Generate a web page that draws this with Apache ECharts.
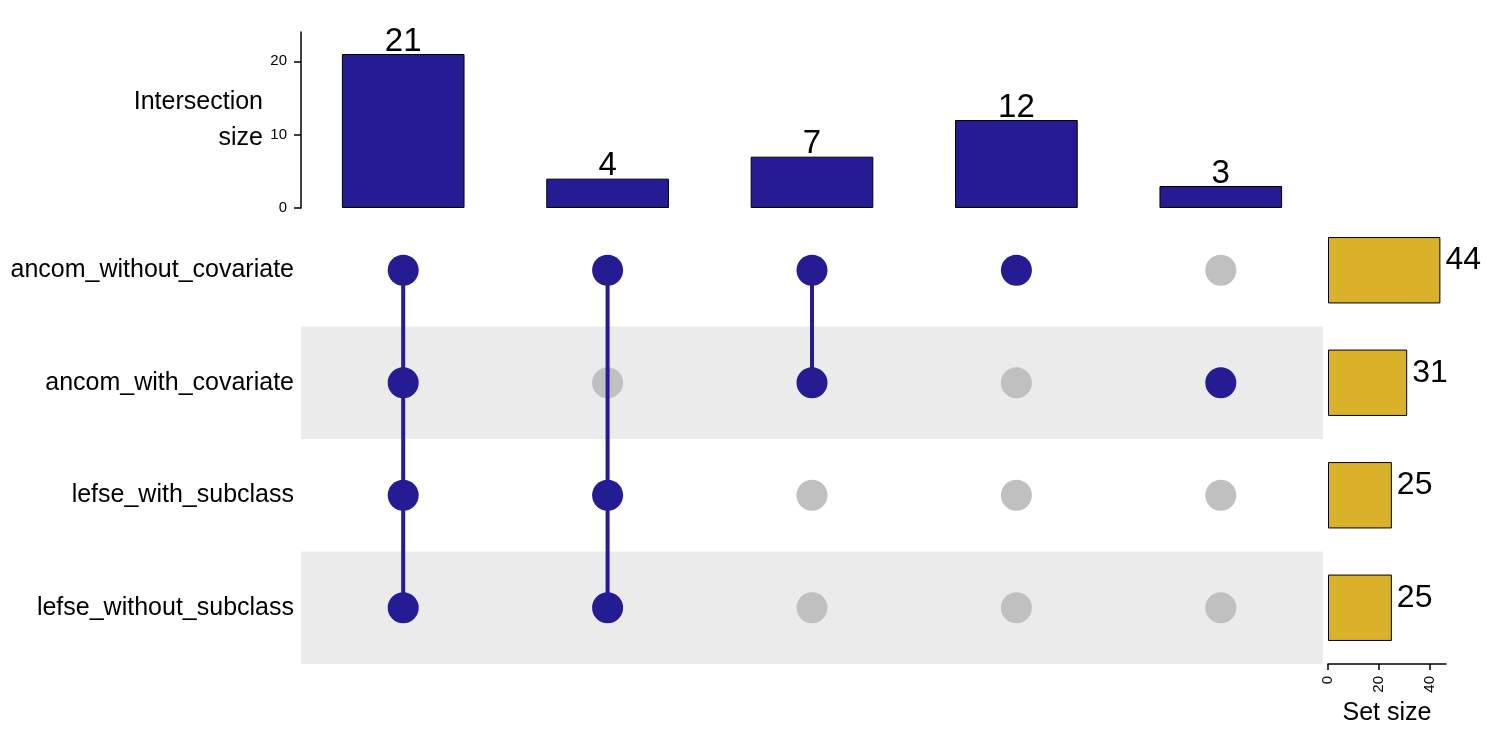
<!DOCTYPE html>
<html>
<head>
<meta charset="utf-8">
<script src="https://cdn.jsdelivr.net/npm/echarts@6/dist/echarts.min.js"></script>
<style>html,body{margin:0;padding:0;background:#fff;}#c{width:1500px;height:750px;}</style>
</head>
<body>
<div id="c"></div>
<script>
var sets = ['ancom_without_covariate', 'ancom_with_covariate', 'lefse_with_subclass', 'lefse_without_subclass'];
var setSizes = [44, 31, 25, 25];
var intersectionSizes = [21, 4, 7, 12, 3];
// membership: for each intersection column, list of set indices involved
var membership = [[0, 1, 2, 3], [0, 2, 3], [0, 1], [0], [1]];

var BLUE = '#251C93';
var GREY = '#C0C0C0';
var GOLD = '#DAB22A';
var FONT = '"Liberation Sans", Arial, Helvetica, sans-serif';

var cols = intersectionSizes.map(function (_, i) { return 'I' + (i + 1); });

var dotData = [];
membership.forEach(function (m, c) {
  sets.forEach(function (_, r) {
    var on = m.indexOf(r) >= 0;
    dotData.push({ value: [c, r], itemStyle: { color: on ? BLUE : GREY, opacity: 1 } });
  });
});

var lineSeries = [];
membership.forEach(function (m, c) {
  if (m.length < 2) return;
  var lo = Math.min.apply(null, m), hi = Math.max.apply(null, m);
  lineSeries.push({
    type: 'line', xAxisIndex: 1, yAxisIndex: 1,
    data: [[c, lo], [c, hi]], showSymbol: false, symbol: 'none',
    lineStyle: { color: BLUE, width: 4 }, z: 5, silent: true, animation: false
  });
});

var chart = echarts.init(document.getElementById('c'), null, { renderer: 'canvas' });
chart.setOption({
  animation: false,
  textStyle: { fontFamily: FONT },
  grid: [
    { left: 301, width: 1022, top: 32, height: 176 },
    { left: 301, width: 1022, top: 214, height: 450 },
    { left: 1328, width: 118, top: 214, height: 450 }
  ],
  xAxis: [
    { gridIndex: 0, type: 'category', data: cols, show: false },
    { gridIndex: 1, type: 'category', data: cols, show: false },
    { gridIndex: 2, type: 'value', min: 0, max: 46.2, interval: 20,
      axisLine: { show: true, lineStyle: { color: '#000', width: 1.5 } },
      axisTick: { show: true, length: 6, lineStyle: { color: '#000', width: 1.5 } },
      axisLabel: { rotate: 90, color: '#000', fontSize: 15, margin: 12, showMaxLabel: false,
        formatter: function (v) { return (v % 20 === 0) ? String(v) : ''; } },
      splitLine: { show: false },
      name: 'Set size', nameLocation: 'middle', nameGap: 35,
      nameTextStyle: { color: '#000', fontSize: 25 } }
  ],
  yAxis: [
    { gridIndex: 0, type: 'value', min: 0, max: 24, interval: 10,
      axisLine: { show: true, lineStyle: { color: '#000', width: 1.5 } },
      axisTick: { show: true, length: 7, lineStyle: { color: '#000', width: 1.5 } },
      axisLabel: { color: '#000', fontSize: 15, margin: 14, showMaxLabel: false,
        formatter: function (v) { return (v % 10 === 0) ? String(v) : ''; } },
      splitLine: { show: false },
      name: 'Intersection\nsize', nameLocation: 'middle', nameRotate: 0, nameGap: 38,
      nameTextStyle: { color: '#000', fontSize: 25, align: 'right', lineHeight: 36, padding: [6, 0, 0, 0] } },
    { gridIndex: 1, type: 'category', data: sets, inverse: true,
      axisLine: { show: false }, axisTick: { show: false },
      axisLabel: { color: '#000', fontSize: 25, margin: 7 },
      splitArea: { show: true, areaStyle: { color: ['rgba(255,255,255,0)', '#EBEBEB'] } } },
    { gridIndex: 2, type: 'category', data: sets, inverse: true, show: false }
  ],
  series: [
    { type: 'bar', xAxisIndex: 0, yAxisIndex: 0, data: intersectionSizes, barWidth: '60%',
      itemStyle: { color: BLUE, borderColor: '#000', borderWidth: 1 },
      label: { show: true, position: 'top', distance: -4, color: '#000', fontSize: 33 } },
    { type: 'scatter', xAxisIndex: 1, yAxisIndex: 1, data: dotData, symbolSize: 31, z: 3,
      itemStyle: { opacity: 1 } }
  ].concat(lineSeries).concat([
    { type: 'bar', xAxisIndex: 2, yAxisIndex: 2, data: setSizes, barWidth: '59%',
      itemStyle: { color: GOLD, borderColor: '#000', borderWidth: 1 },
      label: { show: true, position: 'right', distance: 5, offset: [0, -10], color: '#000', fontSize: 32 } }
  ])
});
</script>
</body>
</html>
